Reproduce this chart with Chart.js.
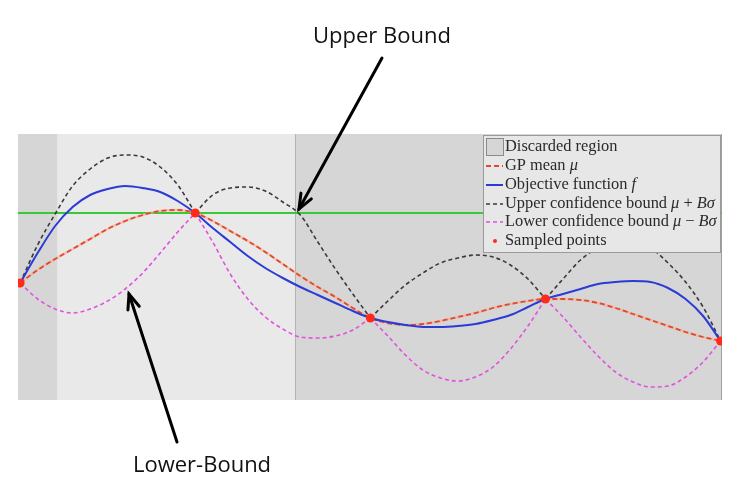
<!DOCTYPE html>
<html>
<head>
<meta charset="utf-8">
<script src="https://cdn.jsdelivr.net/npm/chart.js@4.4.0/dist/chart.umd.min.js"></script>
<style>
  body { margin: 0; background: #fff; }
  #wrap { width: 733px; height: 483px; }
</style>
</head>
<body>
<div id="wrap"><canvas id="gpChart" width="733" height="483"></canvas></div>
<script>
// x grid the curves were read on
const xGrid = [0, 0.025, 0.05, 0.075, 0.1, 0.125, 0.15, 0.175, 0.2, 0.225,
  0.25, 0.275, 0.3, 0.325, 0.35, 0.375, 0.4, 0.425, 0.45, 0.475,
  0.5, 0.525, 0.55, 0.575, 0.6, 0.625, 0.65, 0.675, 0.7, 0.725,
  0.75, 0.775, 0.8, 0.825, 0.85, 0.875, 0.9, 0.925, 0.95, 0.975, 1];

const objective = [1.17, 1.47, 1.74, 1.93, 2.05, 2.11, 2.14, 2.12, 2.08, 1.99,
  1.87, 1.72, 1.58, 1.44, 1.32, 1.22, 1.13, 1.05, 0.97, 0.89,
  0.82, 0.78, 0.75, 0.73, 0.73, 0.74, 0.76, 0.80, 0.85, 0.93,
  1.01, 1.06, 1.11, 1.16, 1.18, 1.19, 1.18, 1.12, 1.01, 0.84, 0.59];

const gpMean = [1.17, 1.30, 1.41, 1.51, 1.61, 1.71, 1.79, 1.85, 1.89, 1.90,
  1.87, 1.79, 1.69, 1.59, 1.48, 1.36, 1.24, 1.13, 1.03, 0.92,
  0.82, 0.77, 0.75, 0.76, 0.79, 0.83, 0.87, 0.92, 0.96, 0.99,
  1.01, 1.01, 1.00, 0.97, 0.92, 0.86, 0.80, 0.74, 0.68, 0.63, 0.59];

const upperBound = [1.17, 1.55, 1.86, 2.14, 2.31, 2.42, 2.45, 2.43, 2.33, 2.15,
  1.87, 2.05, 2.12, 2.13, 2.09, 1.98, 1.85, 1.58, 1.31, 1.06,
  0.82, 0.99, 1.15, 1.27, 1.37, 1.42, 1.45, 1.43, 1.35, 1.21,
  1.01, 1.21, 1.40, 1.52, 1.57, 1.57, 1.52, 1.37, 1.18, 0.93, 0.59];

const lowerBound = [1.17, 1.01, 0.91, 0.87, 0.91, 0.99, 1.11, 1.27, 1.47, 1.68,
  1.87, 1.58, 1.26, 1.01, 0.83, 0.71, 0.63, 0.62, 0.64, 0.70,
  0.82, 0.64, 0.45, 0.30, 0.22, 0.19, 0.23, 0.33, 0.51, 0.74,
  1.01, 0.83, 0.63, 0.44, 0.28, 0.18, 0.13, 0.14, 0.23, 0.38, 0.59];

const sampleX = [0, 0.25, 0.5, 0.75, 1];
const sampleY = [1.17, 1.87, 0.82, 1.01, 0.59];

const bestValue = 1.87;

const discardedFrom = [-0.003, 0.393];
const discardedTo = [0.053, 1.002];

const xMin = -0.003, xMax = 1.002;

function toPoints(xs, ys) {
  return xs.map((x, i) => ({ x: x, y: ys[i] }));
}

// bounds have kinks at sampled points, so draw them piece by piece
function pieces(ys, style) {
  const cuts = sampleX.map(s => xGrid.indexOf(s));
  const out = [];
  for (let k = 0; k < cuts.length - 1; k++) {
    const xs = xGrid.slice(cuts[k], cuts[k + 1] + 1);
    const part = ys.slice(cuts[k], cuts[k + 1] + 1);
    out.push(Object.assign({ data: toPoints(xs, part) }, style));
  }
  return out;
}

const upperStyle = { label: 'upper', borderColor: '#3a3a3a', borderWidth: 1.6, borderDash: [4, 3], pointRadius: 0, cubicInterpolationMode: 'monotone' };
const lowerStyle = { label: 'lower', borderColor: '#e052e0', borderWidth: 1.6, borderDash: [4, 3], pointRadius: 0, cubicInterpolationMode: 'monotone' };

const datasets = [
  {
    label: 'Sampled points',
    data: toPoints(sampleX, sampleY),
    showLine: false,
    pointRadius: 4.5,
    pointBackgroundColor: '#ff2a1a',
    pointBorderWidth: 0
  },
  {
    label: 'Objective function',
    data: toPoints(xGrid, objective),
    borderColor: '#2b3bd6',
    borderWidth: 2,
    pointRadius: 0,
    cubicInterpolationMode: 'monotone'
  },
  {
    label: 'GP mean',
    data: toPoints(xGrid, gpMean),
    borderColor: '#e2482a',
    borderWidth: 1.8,
    borderDash: [5, 3],
    pointRadius: 0,
    cubicInterpolationMode: 'monotone'
  },
  {
    label: 'GP mean halo',
    data: toPoints(xGrid, gpMean),
    borderColor: 'rgba(246,170,150,0.6)',
    borderWidth: 2.5,
    pointRadius: 0,
    cubicInterpolationMode: 'monotone'
  },
  ...pieces(upperBound, upperStyle),
  ...pieces(lowerBound, lowerStyle),
  {
    label: 'best',
    data: [{ x: xMin, y: bestValue }, { x: xMax, y: bestValue }],
    borderColor: '#38c938',
    borderWidth: 2,
    pointRadius: 0
  }
];

const backgroundPlugin = {
  id: 'regions',
  beforeDatasetsDraw(chart) {
    const ctx = chart.ctx;
    const a = chart.chartArea;
    const xs = chart.scales.x;
    ctx.save();
    ctx.fillStyle = '#e9e9e9';
    ctx.fillRect(a.left, a.top, a.right - a.left, a.bottom - a.top);
    ctx.fillStyle = '#d6d6d6';
    for (let i = 0; i < discardedFrom.length; i++) {
      const x0 = xs.getPixelForValue(discardedFrom[i]);
      const x1 = xs.getPixelForValue(discardedTo[i]);
      ctx.fillRect(x0, a.top, x1 - x0, a.bottom - a.top);
    }
    ctx.strokeStyle = '#b4b4b4';
    ctx.lineWidth = 1;
    const edge = Math.round(xs.getPixelForValue(discardedFrom[1])) + 0.5;
    ctx.beginPath();
    ctx.moveTo(edge, a.top);
    ctx.lineTo(edge, a.bottom);
    ctx.stroke();
    ctx.strokeStyle = '#a0a0a0';
    ctx.beginPath();
    ctx.moveTo(a.right - 0.5, a.top);
    ctx.lineTo(a.right - 0.5, a.bottom);
    ctx.stroke();
    ctx.restore();
  }
};

// legend rows: text pieces, italic flag
const legendRows = [
  [['Discarded region', false]],
  [['GP mean ', false], ['\u03bc', true]],
  [['Objective function ', false], ['f', true]],
  [['Upper confidence bound ', false], ['\u03bc', true], [' + ', false], ['B\u03c3', true]],
  [['Lower confidence bound ', false], ['\u03bc', true], [' \u2212 ', false], ['B\u03c3', true]],
  [['Sampled points', false]]
];

function arrow(ctx, x0, y0, x1, y1) {
  const ang = Math.atan2(y1 - y0, x1 - x0);
  ctx.beginPath();
  ctx.moveTo(x0, y0);
  ctx.lineTo(x1, y1);
  ctx.stroke();
  const len = 16, spread = 0.38;
  ctx.beginPath();
  ctx.moveTo(x1 - len * Math.cos(ang - spread), y1 - len * Math.sin(ang - spread));
  ctx.lineTo(x1, y1);
  ctx.lineTo(x1 - len * Math.cos(ang + spread), y1 - len * Math.sin(ang + spread));
  ctx.stroke();
}

const overlayPlugin = {
  id: 'overlay',
  afterDraw(chart) {
    const ctx = chart.ctx;
    ctx.save();

    // legend box
    const bx = 483.5, by = 135.5, bw = 237, bh = 117;
    ctx.fillStyle = '#e7e7e7';
    ctx.fillRect(bx, by, bw, bh);
    ctx.strokeStyle = '#9a9a9a';
    ctx.lineWidth = 1;
    ctx.strokeRect(bx, by, bw, bh);

    const rowY = [147, 166, 185, 204, 222, 241];
    const glyph = [null, datasets[2], datasets[1], datasets[4], datasets[8], datasets[0]];
    for (let r = 0; r < legendRows.length; r++) {
      const y = rowY[r];
      if (r === 0) {
        ctx.fillStyle = '#d6d6d6';
        ctx.fillRect(486.5, y - 8.5, 17, 17);
        ctx.strokeStyle = '#8a8a8a';
        ctx.strokeRect(486.5, y - 8.5, 17, 17);
      } else if (r === 5) {
        ctx.fillStyle = glyph[r].pointBackgroundColor;
        ctx.beginPath();
        ctx.arc(495, y, 2, 0, Math.PI * 2);
        ctx.fill();
      } else {
        ctx.strokeStyle = glyph[r].borderColor;
        ctx.lineWidth = glyph[r].borderWidth;
        ctx.setLineDash(glyph[r].borderDash || []);
        ctx.beginPath();
        ctx.moveTo(486, y);
        ctx.lineTo(503, y);
        ctx.stroke();
        ctx.setLineDash([]);
      }
      let tx = 505;
      ctx.fillStyle = '#2a2a2a';
      ctx.textBaseline = 'middle';
      for (const [txt, it] of legendRows[r]) {
        ctx.font = (it ? 'italic ' : '') + '16.4px "Liberation Serif", serif';
        ctx.fillText(txt, tx, y);
        tx += ctx.measureText(txt).width;
      }
    }

    // annotations
    ctx.fillStyle = '#111';
    ctx.textBaseline = 'alphabetic';
    ctx.font = '22px "Open Sans", sans-serif';
    ctx.fillText('Upper Bound', 313, 43);
    ctx.fillText('Lower-Bound', 133, 472);

    ctx.strokeStyle = '#000';
    ctx.lineWidth = 3;
    ctx.lineCap = 'round';
    arrow(ctx, 382, 58, 299, 209);
    arrow(ctx, 177, 442, 129, 294);

    ctx.restore();
  }
};

const chart = new Chart(document.getElementById('gpChart').getContext('2d'), {
  type: 'line',
  data: { datasets: datasets },
  options: {
    responsive: false,
    animation: false,
    layout: { padding: { left: 18, right: 11, top: 134, bottom: 83 } },
    plugins: {
      legend: { display: false },
      tooltip: { enabled: false }
    },
    scales: {
      x: { type: 'linear', min: xMin, max: xMax, display: false },
      y: { min: 0, max: 2.66, display: false }
    }
  },
  plugins: [backgroundPlugin, overlayPlugin]
});
</script>
</body>
</html>
